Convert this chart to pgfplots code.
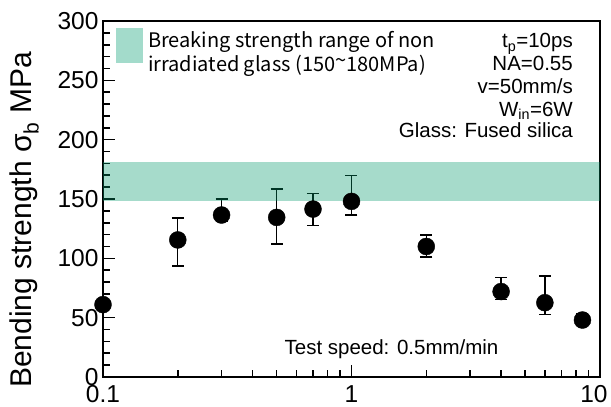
\documentclass[border=0pt]{standalone}
\usepackage{pgfplots}
\pgfplotsset{compat=1.18}
\usepackage{pgfplotstable}
\usepackage{fontspec}
\setmainfont{Liberation Sans}
\newfontfamily\jpfont{Noto Sans CJK JP}
\definecolor{bandc}{RGB}{0,152,107}
\definecolor{swatch}{RGB}{163,219,203}
\pgfplotstableread{
x y ep em
0.1 61 2 2
0.2 115.5 18.5 22
0.3 136.5 13.5 5.5
0.5 134.5 24 22.5
0.7 141.5 13 14
1.0 148 22 11.5
2.0 110 9.7 9
4.0 72 11.7 6.5
6.0 62.6 22.4 9.8
8.5 48 5 3
}\datatable
\begin{document}
\begin{tikzpicture}
\useasboundingbox (-103pt,-30pt) rectangle (508pt,377pt);
\begin{axis}[
  at={(0pt,0pt)}, anchor=south west,
  scale only axis, width=497pt, height=356pt,
  xmode=log, xmin=0.1, xmax=10,
  ymin=0, ymax=300,
  xtick={0.1,1,10}, xticklabels={0.1,1,{\hspace*{-12pt}10}},
  ytick={0,50,...,300}, minor y tick num=4,
  xtick pos=bottom, ytick pos=left,
  tick align=inside,
  major tick length=12pt, minor tick length=7pt,
  axis line style={line width=1.8pt},
  every tick/.style={line width=1.6pt, black},
  tick label style={font=\fontsize{24.5}{28}\selectfont},
  /pgf/number format/assume math mode=true,
  xticklabel style={yshift=-5pt},
  yticklabel style={xshift=-1pt},
  ylabel={Bending strength σ\textsubscript{b} MPa},
  ylabel style={at={(axis description cs:-0.158,0.441)}, anchor=center, rotate=0, font=\fontsize{30}{34}\selectfont},
  clip=false,
]
\addplot[only marks, mark=*, mark size=8.5pt, black,
  error bars/.cd, y dir=both, y explicit,
  error bar style={line width=1.3pt, black},
  error mark options={rotate=90, mark size=6pt, line width=1.3pt, black}]
  table[x=x, y=y, y error plus=ep, y error minus=em] {\datatable};
\addplot[draw=none, fill=bandc, fill opacity=0.35] coordinates {(0.1,148) (10,148) (10,181) (0.1,181)} -- cycle;
\end{axis}
\fill[swatch] (13pt,314pt) rectangle (40pt,349pt);
\node[anchor=base west, inner sep=0pt, font=\jpfont\fontsize{20}{24}\selectfont] at (45pt,329pt) {Breaking strength range of non};
\node[anchor=base west, inner sep=0pt, font=\jpfont\fontsize{20}{24}\selectfont] at (45pt,305pt) {irradiated glass (150\raisebox{0.45ex}{\textasciitilde}180MPa)};
\begin{scope}[every node/.style={anchor=base east, inner sep=0pt, font=\fontsize{20.5}{24}\selectfont}]
\node at (470pt,329pt) {t\textsubscript{p}=10ps};
\node at (470pt,306pt) {NA=0.55};
\node at (470pt,283pt) {v=50mm/s};
\node at (470pt,260.5pt) {W\textsubscript{in}=6W};
\node at (470pt,239.5pt) {Glass: Fused silica};
\end{scope}
\node[anchor=base, inner sep=0pt, font=\fontsize{20.5}{24}\selectfont] at (288.5pt,22pt) {Test speed: 0.5mm/min};
\end{tikzpicture}
\end{document}
